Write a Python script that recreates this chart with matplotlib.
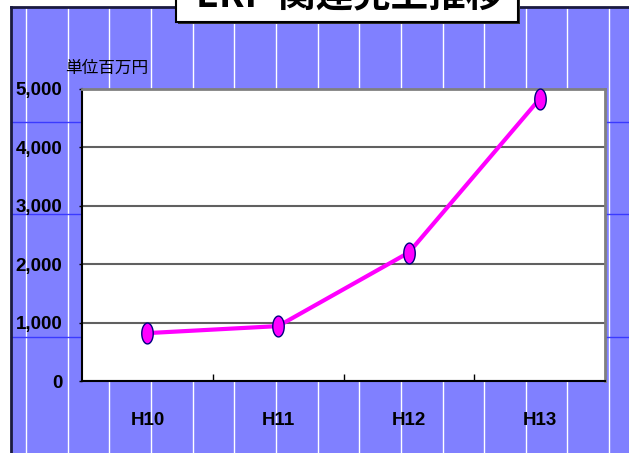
import numpy as np
import matplotlib.pyplot as plt
from matplotlib.patches import Rectangle
from matplotlib.lines import Line2D
from matplotlib.path import Path

years = ['H10', 'H11', 'H12', 'H13']
sales = [820, 940, 2200, 4830]  # 百万円
yticks = [0, 1000, 2000, 3000, 4000, 5000]

title = 'ERP 関連売上推移'
unit_label = '単位百万円'

W, H = 629, 453
label_font = ['Liberation Sans', 'DejaVu Sans']
jp_font = ['Noto Sans CJK JP', 'DejaVu Sans']


def fx(px):
    return px / W


def fy(py):
    return 1 - py / H


fig = plt.figure(figsize=(W / 100, H / 100), dpi=100)
fig.patch.set_facecolor('white')

# blue panel behind the chart
fig.add_artist(Rectangle((fx(11), 0), 1, fy(7), transform=fig.transFigure,
                         facecolor='#8080ff', edgecolor='none', zorder=0.1))
for x in 26 + 41.65 * np.arange(15):
    fig.add_artist(Line2D([fx(x), fx(x)], [0, fy(7)], transform=fig.transFigure,
                          color='white', lw=1, zorder=0.2))
for y in [122, 214, 337]:
    fig.add_artist(Line2D([fx(11), 1], [fy(y), fy(y)], transform=fig.transFigure,
                          color='#3a3aff', lw=1, zorder=0.2))
fig.add_artist(Line2D([fx(11), fx(11)], [0, fy(7)], transform=fig.transFigure,
                      color='#1a1a40', lw=2, zorder=0.3))
fig.add_artist(Line2D([fx(11), 1], [fy(7), fy(7)], transform=fig.transFigure,
                      color='#1a1a40', lw=2, zorder=0.3))

ax = fig.add_axes([fx(82), fy(381), fx(605) - fx(82), (381 - 89) / H])
ax.set_zorder(2)
ax.set_facecolor('white')

# ellipse marker
t = np.linspace(0, 2 * np.pi, 64)
ellipse = Path(np.column_stack([0.55 * np.cos(t), np.sin(t)]), closed=True)

x = np.arange(len(years))
ax.plot(x, sales, color='#ff00ff', lw=3, marker=ellipse, ms=15,
        mfc='#ff00ff', mec='#000080', mew=1, clip_on=False, zorder=3)

ax.set_xlim(-0.5, len(years) - 0.5)
ax.set_ylim(0, 5000)
ax.set_yticks(yticks)
ax.set_yticklabels([f'{v:,}' for v in yticks])
ax.set_xticks(x)
ax.set_xticklabels(years)
ax.set_xticks(x[:-1] + 0.5, minor=True)

ax.yaxis.grid(True, color='#606060', lw=1.5)
ax.set_axisbelow(True)

ax.tick_params(axis='x', which='major', length=0, pad=22)
ax.tick_params(axis='x', which='minor', direction='in', length=5, width=1, color='black')
ax.tick_params(axis='y', direction='out', length=2, width=1, color='black', pad=12)
for lbl in ax.get_xticklabels() + ax.get_yticklabels():
    lbl.set_family(label_font)
    lbl.set_fontweight('bold')
    lbl.set_fontsize(13.5)

for side in ['left', 'bottom']:
    ax.spines[side].set_color('black')
    ax.spines[side].set_linewidth(1.5)
for side in ['top', 'right']:
    ax.spines[side].set_color('#808080')
    ax.spines[side].set_linewidth(2)

fig.text(fx(107), fy(68), unit_label, ha='center', va='center', fontsize=12,
         family=jp_font, zorder=3)

# title box, cut off at the top edge
fig.add_artist(Rectangle((fx(178), fy(24)), fx(520) - fx(178), 0.2,
                         transform=fig.transFigure, facecolor='#303030',
                         edgecolor='none', zorder=4))
fig.add_artist(Rectangle((fx(176), fy(22)), fx(518) - fx(176), 0.2,
                         transform=fig.transFigure, facecolor='white',
                         edgecolor='black', lw=1.5, zorder=5))
fig.text(fx(350), fy(6), title, ha='center', va='baseline', fontsize=27,
         fontweight='bold', family=jp_font, zorder=6)

fig.savefig('out.png', dpi=100)
